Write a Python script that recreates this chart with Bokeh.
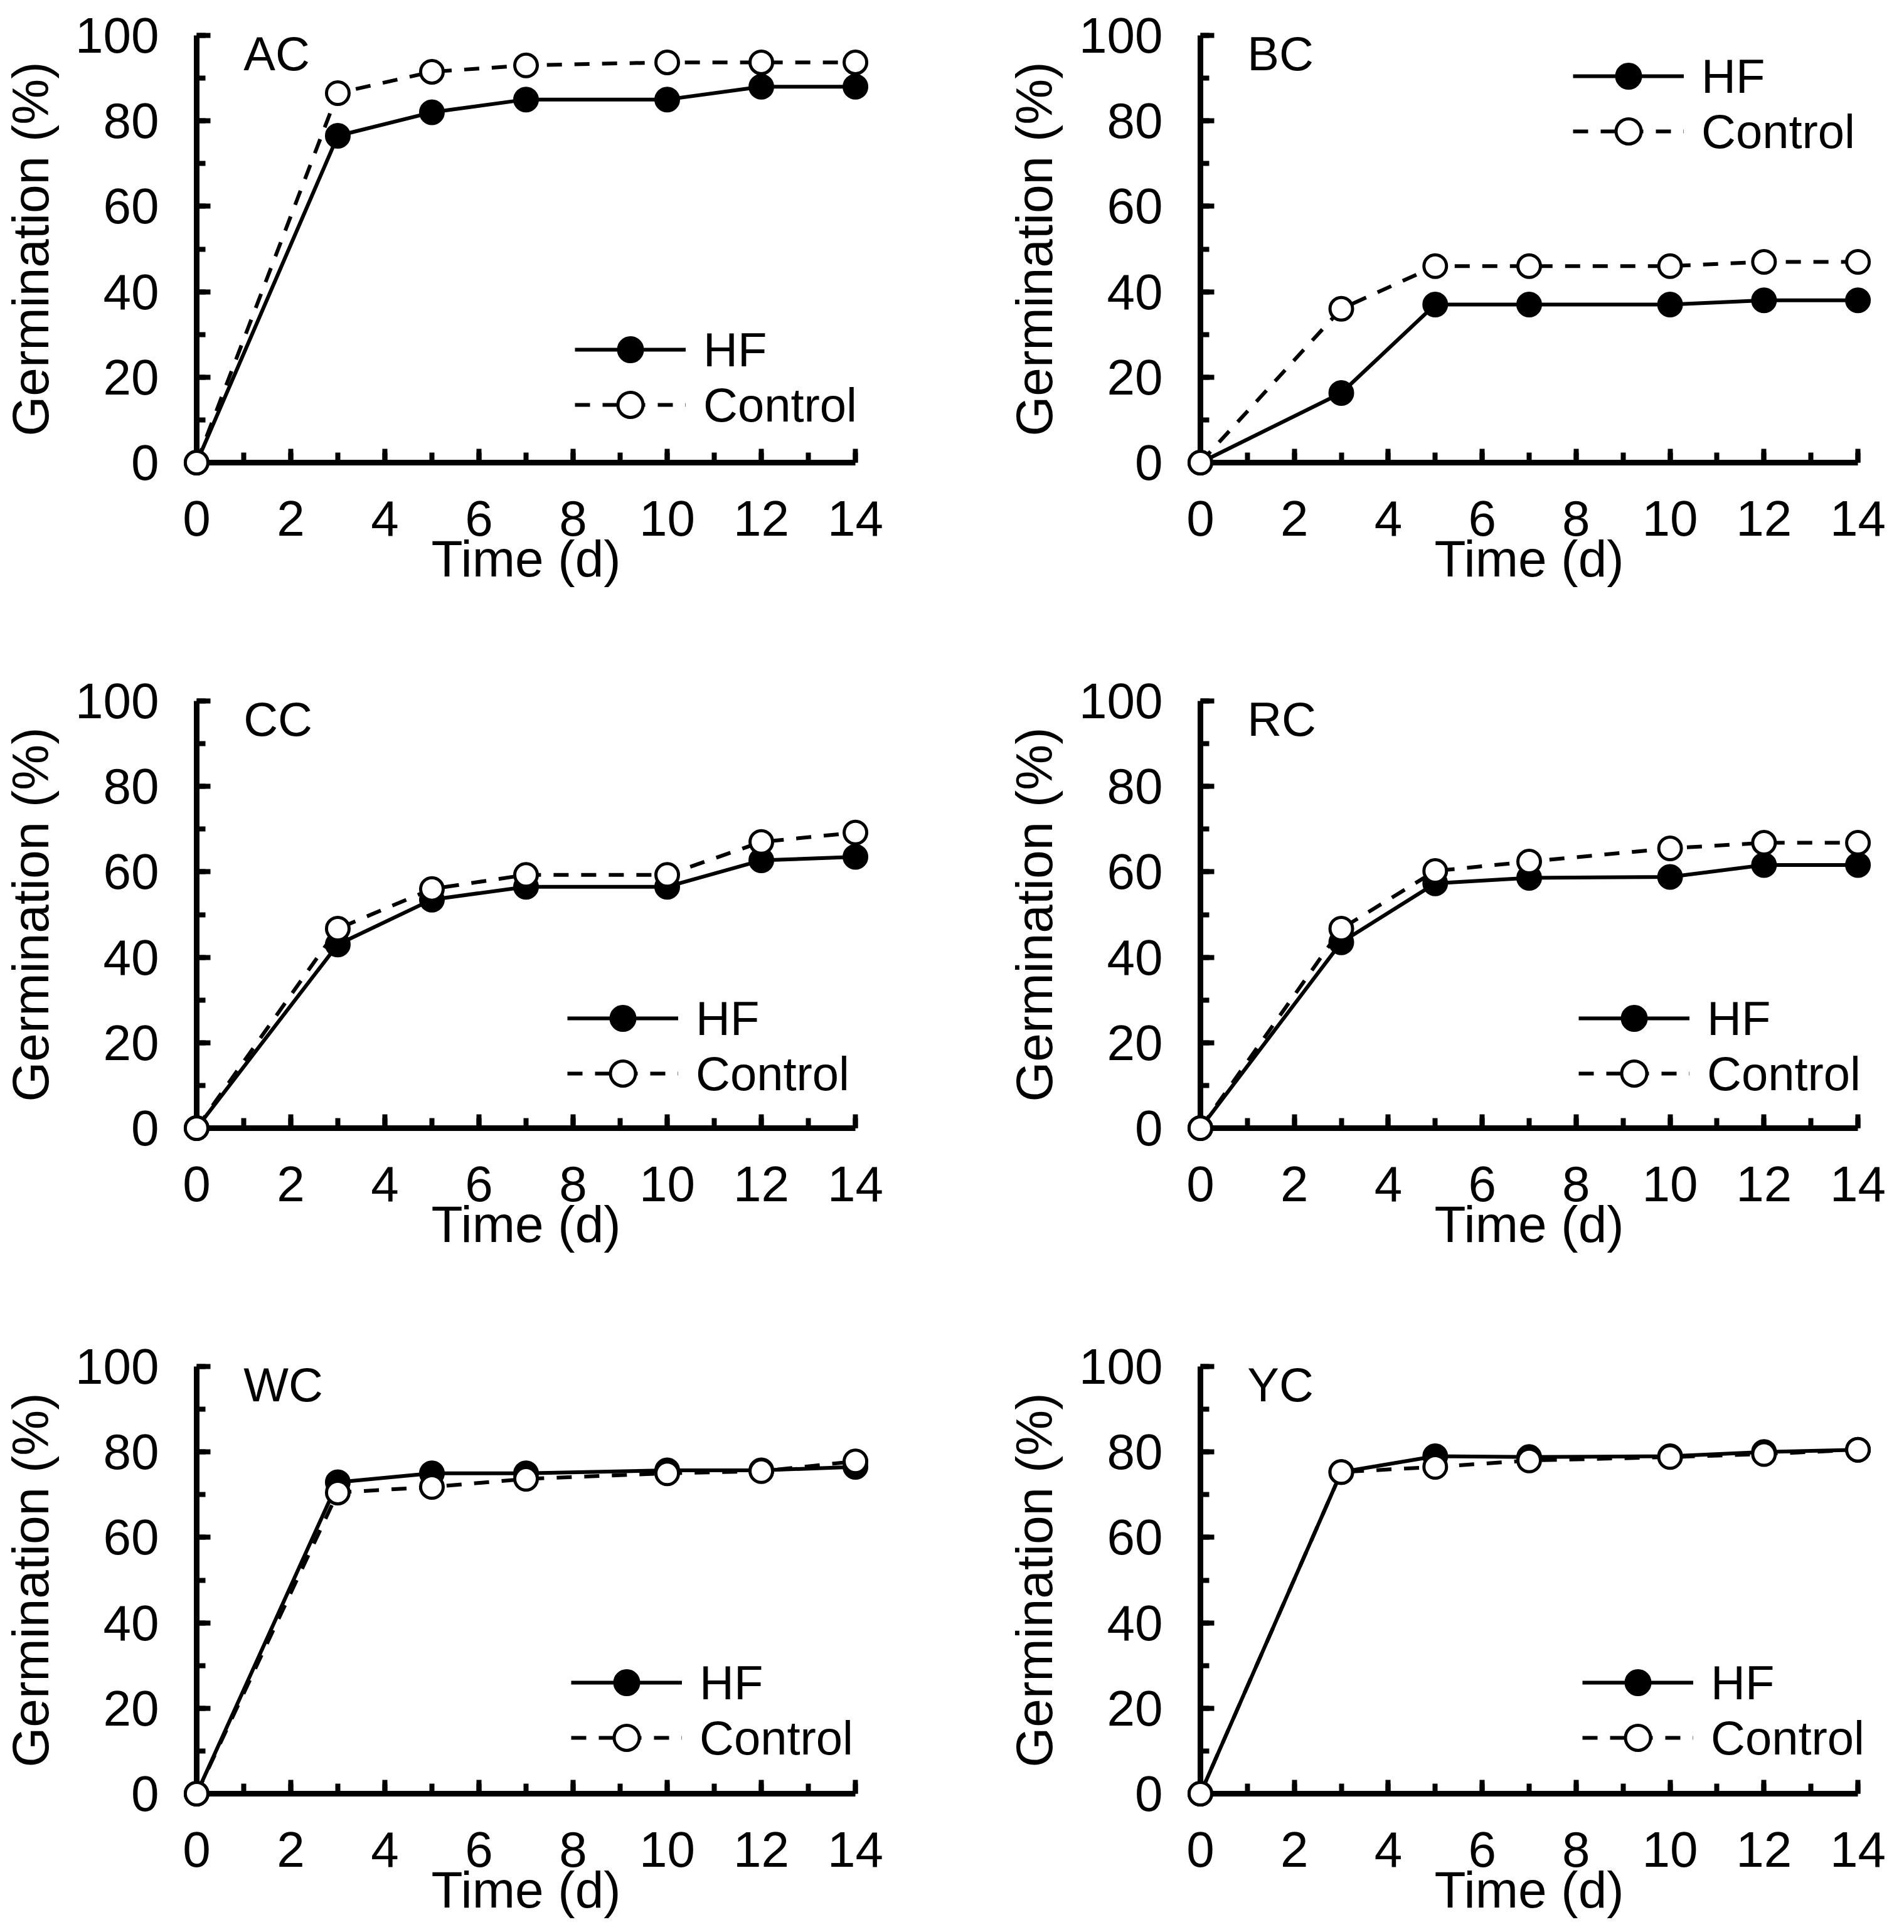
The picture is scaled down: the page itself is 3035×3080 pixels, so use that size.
from bokeh.plotting import figure
from bokeh.models import (Range1d, SingleIntervalTicker, Label, Legend, LegendItem,
                          LinearAxis, CustomJSTickFormatter)
from bokeh.layouts import column, row
from bokeh.embed import file_html
from bokeh.resources import INLINE

# ---------------- data ----------------
days = [0, 3, 5, 7, 10, 12, 14]
panel_names = ["AC", "BC", "CC", "RC", "WC", "YC"]
series_names = ["HF", "Control"]
x_axis_label = "Time (d)"
y_axis_label = "Germination (%)"

hf_ac = [0, 76.5, 82, 85, 85, 88, 88]
ctrl_ac = [0, 86.5, 91.5, 93, 93.7, 93.7, 93.7]
hf_bc = [0, 16.3, 37, 37, 37, 38, 38]
ctrl_bc = [0, 36, 46, 46, 46, 47, 47]
hf_cc = [0, 43, 53.5, 56.5, 56.5, 62.7, 63.5]
ctrl_cc = [0, 46.7, 56, 59.3, 59.3, 67, 69.2]
hf_rc = [0, 43.5, 57.3, 58.6, 58.8, 61.6, 61.6]
ctrl_rc = [0, 46.7, 60.2, 62.4, 65.5, 66.8, 66.8]
hf_wc = [0, 72.9, 75, 75, 75.7, 75.7, 76.5]
ctrl_wc = [0, 70.5, 71.8, 73.7, 75, 75.5, 77.8]
hf_yc = [0, 75.3, 79, 78.8, 79, 80, 80.5]
ctrl_yc = [0, 75.3, 76.5, 78, 78.8, 79.5, 80.5]

hf_all = [hf_ac, hf_bc, hf_cc, hf_rc, hf_wc, hf_yc]
ctrl_all = [ctrl_ac, ctrl_bc, ctrl_cc, ctrl_rc, ctrl_wc, ctrl_yc]

# ---------------- layout (page pixels) ----------------
COL_X0 = [310, 1910]
COL_X14 = [1363, 2961]
ROW_Y100 = [56, 1117, 2178]
ROW_Y0 = [737, 1798, 2859]
PAD = 30
COL_EDGES = [0, 1600, 3035]
ROW_EDGES = [0, 1062, 2123, 3080]
# legend anchor: (line start offset from x=0 axis, HF row centre above y=0 axis)
LEG_POS = [(603, 180), (594, 616), (591, 175), (603, 175), (597, 177), (609, 177)]
ROW_GAP = 88

FONT = "Liberation Sans"
GH = 100


def make_panel(i):
    c, r = i % 2, i // 2
    x0, x14 = COL_X0[c], COL_X14[c]
    y100, y0 = ROW_Y100[r], ROW_Y0[r]
    fl, fr = x0 - PAD, x14 + PAD
    ft, fb = y100 - PAD, y0 + PAD
    W = COL_EDGES[c + 1] - COL_EDGES[c]
    H = ROW_EDGES[r + 1] - ROW_EDGES[r]
    ppx = (x14 - x0) / 14.0
    ppy = (y0 - y100) / 100.0

    p = figure(width=W, height=H,
               x_range=Range1d(-PAD / ppx, 14 + PAD / ppx),
               y_range=Range1d(-PAD / ppy, 100 + PAD / ppy),
               output_backend="svg", toolbar_location=None,
               min_border_left=fl - COL_EDGES[c], min_border_right=COL_EDGES[c + 1] - fr,
               min_border_top=ft - ROW_EDGES[r], min_border_bottom=ROW_EDGES[r + 1] - fb)
    p.outline_line_color = None
    p.xgrid.visible = False
    p.ygrid.visible = False
    p.background_fill_color = "white"
    p.border_fill_color = "white"

    # label-carrying axes at the frame edges (no line, no ticks)
    xa = p.xaxis[0]
    ya = p.yaxis[0]
    xa.ticker = SingleIntervalTicker(interval=2)
    ya.ticker = SingleIntervalTicker(interval=20)
    xa.bounds = (0, 14)
    ya.bounds = (0, 100)
    for ax in (xa, ya):
        ax.axis_line_color = None
        ax.major_tick_line_color = None
        ax.minor_tick_line_color = None
        ax.major_tick_out = 0
        ax.minor_tick_out = 0
        ax.major_tick_in = 0
        ax.minor_tick_in = 0
        ax.major_label_text_font = FONT
        ax.major_label_text_font_size = "80px"
        ax.major_label_text_color = "black"
        ax.axis_label_text_font = FONT
        ax.axis_label_text_font_size = "82px"
        ax.axis_label_text_font_style = "normal"
        ax.axis_label_text_color = "black"
    xa.major_label_standoff = 31
    ya.major_label_standoff = 30
    xa.axis_label = x_axis_label
    ya.axis_label = y_axis_label
    xa.axis_label_standoff = -12
    ya.axis_label_standoff = 23

    # drawn axes at x=0 / y=0 (line + inward ticks)
    blank = CustomJSTickFormatter(code="return '';")
    xl = LinearAxis(ticker=SingleIntervalTicker(interval=2, num_minor_ticks=2),
                    fixed_location=0, bounds=(0, 14), formatter=blank,
                    major_tick_in=22, minor_tick_in=16)
    yl = LinearAxis(ticker=SingleIntervalTicker(interval=20, num_minor_ticks=2),
                    fixed_location=0, bounds=(0, 100), formatter=blank,
                    major_tick_in=22, minor_tick_in=14)
    for ax in (xl, yl):
        ax.axis_line_width = 9
        ax.axis_line_color = "black"
        ax.major_tick_line_width = 8
        ax.minor_tick_line_width = 8
        ax.major_tick_line_color = "black"
        ax.minor_tick_line_color = "black"
        ax.major_tick_out = 0
        ax.minor_tick_out = 0
        ax.major_label_standoff = 0
        ax.major_label_text_font_size = "10px"
    p.add_layout(xl, "below")
    p.add_layout(yl, "left")

    hf = hf_all[i]
    ctrl = ctrl_all[i]
    l1 = p.line(days, hf, line_width=6, line_color="black")
    s1 = p.scatter(days, hf, marker="circle", size=38, fill_color="black",
                   line_color="black", line_width=3, level="overlay")
    l2 = p.line(days, ctrl, line_width=6, line_color="black", line_dash="24 20")
    s2 = p.scatter(days, ctrl, marker="circle", size=36, fill_color="white",
                   line_color="black", line_width=5, level="overlay")

    dx, dy = LEG_POS[i]
    for k, (name, rends) in enumerate([(series_names[0], [l1, s1]), (series_names[1], [l2, s2])]):
        centre = (y0 - dy) + k * ROW_GAP
        vy = fb - (centre + GH / 2.0)
        vx = (x0 + dx) - fl
        leg = Legend(items=[LegendItem(label=name, renderers=rends)],
                     location=(vx, vy), glyph_width=177, glyph_height=GH, spacing=0,
                     label_standoff=28, label_text_font=FONT, label_text_font_size="76px",
                     label_text_color="black", padding=0, margin=0,
                     border_line_alpha=0, background_fill_alpha=0)
        p.add_layout(leg)

    p.add_layout(Label(x=75 / ppx, y=100 - 29 / ppy, text=panel_names[i],
                       text_font=FONT, text_font_size="76px", text_color="black",
                       text_align="left", text_baseline="middle"))
    return p


panels = [make_panel(i) for i in range(6)]
layout = column(row(panels[0], panels[1]), row(panels[2], panels[3]), row(panels[4], panels[5]))

open("out.html", "w").write(file_html(layout, INLINE))
